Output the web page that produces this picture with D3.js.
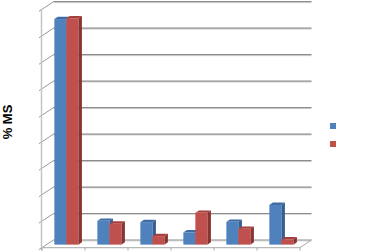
<!DOCTYPE html>
<html lang="en">

<head>
    <meta charset="UTF-8">
    <title>% MS</title>
    <script src="https://d3js.org/d3.v7.min.js"></script>
    <style>
        body { margin: 0; background: #fff; }
        text { font-family: "Liberation Sans", Arial, sans-serif; }
    </style>
</head>

<body>
    <svg width="369" height="251"></svg>
    <script>
        // data (labels are not visible in the original)
        let categories = ["c1", "c2", "c3", "c4", "c5", "c6"]
        let series = ["s1", "s2"]
        let blueValues = [85.2, 9.0, 8.5, 4.6, 8.6, 15.0]
        let redValues = [85.5, 7.9, 3.2, 12.0, 6.0, 2.0]
        let valueTicks = [0, 10, 20, 30, 40, 50, 60, 70, 80, 90]

        let values = [blueValues, redValues]
        let colors = [
            { front: "#4f81bd", top: "#3f6ca6", side: "#365f91" },
            { front: "#c0504d", top: "#a7403d", side: "#8a3432" }
        ]

        let svg = d3.select("svg")

        // depth offset of the 3d box (front plane -> back wall)
        let depthX = 11.5, depthY = -7.6
        function P(x, y, d) { return [x + d * depthX, y + d * depthY] }

        let x = d3.scaleBand().domain(categories).range([42, 300])
        let y = d3.scaleLinear().domain([0, 90]).range([247.6, 9.3])
        let sub = d3.scaleBand().domain(series).range([-12, 12])

        let grid = svg.append("g")
        // back wall gridlines
        valueTicks.forEach(function (t) {
            let a = P(42, y(t), 1), b = P(300, y(t), 1)
            grid.append("line")
                .attr("x1", a[0]).attr("y1", a[1] + 1).attr("x2", b[0]).attr("y2", b[1] + 1)
                .attr("stroke", "#d9d9d9").attr("stroke-width", 1)
            grid.append("line")
                .attr("x1", a[0]).attr("y1", a[1]).attr("x2", b[0]).attr("y2", b[1])
                .attr("stroke", "#8c8c8c").attr("stroke-width", 1.2)
            // side wall line plus little tick
            let f = P(42, y(t), 0)
            grid.append("line")
                .attr("x1", f[0] - 3).attr("y1", f[1] + 2).attr("x2", a[0]).attr("y2", a[1])
                .attr("stroke", "#9a9a9a").attr("stroke-width", 1)
        })
        // front vertical axis
        grid.append("line")
            .attr("x1", 41.5).attr("y1", y(90)).attr("x2", 41.5).attr("y2", y(0) + 3)
            .attr("stroke", "#c4c4c4").attr("stroke-width", 1.5)
        // floor front edge and right edge
        grid.append("line")
            .attr("x1", 41.5).attr("y1", y(0)).attr("x2", 300).attr("y2", y(0))
            .attr("stroke", "#b8b8b8").attr("stroke-width", 1.2)
        let fr = P(300, y(0), 0), br = P(300, y(0), 1)
        grid.append("line")
            .attr("x1", fr[0]).attr("y1", fr[1]).attr("x2", br[0]).attr("y2", br[1])
            .attr("stroke", "#a8a8a8").attr("stroke-width", 1)
        // category ticks on the floor edge
        categories.concat(["end"]).forEach(function (c, i) {
            let xx = i < categories.length ? x(c) : 300
            grid.append("line")
                .attr("x1", xx).attr("y1", y(0)).attr("x2", xx).attr("y2", y(0) + 3)
                .attr("stroke", "#a8a8a8").attr("stroke-width", 1)
        })

        // bars
        let f0 = 0.39, f1 = 0.7
        let bars = svg.append("g")
        let pts = function (arr) { return arr.map(function (p) { return p.join(",") }).join(" ") }
        categories.forEach(function (c, i) {
            series.forEach(function (s, j) {
                let v = values[j][i]
                // front face left edge, before the depth shift of P()
                let xl = x(c) + x.bandwidth() / 2 + 2.85 - f0 * depthX + sub(s)
                let xr = xl + sub.bandwidth()
                let col = colors[j]
                let a = P(xl, y(v), f0), b = P(xr, y(v), f0)
                let bb = P(xr, y(0), f0)
                // side
                bars.append("polygon")
                    .attr("points", pts([P(xr, y(v), f0), P(xr, y(v), f1), P(xr, y(0), f1), P(xr, y(0), f0)]))
                    .attr("fill", col.side)
                // top
                bars.append("polygon")
                    .attr("points", pts([P(xl, y(v), f0), P(xr, y(v), f0), P(xr, y(v), f1), P(xl, y(v), f1)]))
                    .attr("fill", col.top)
                // front
                bars.append("rect")
                    .attr("x", a[0]).attr("y", a[1])
                    .attr("width", b[0] - a[0]).attr("height", bb[1] - a[1])
                    .attr("fill", col.front)
            })
        })

        // legend swatches
        svg.append("g").selectAll("rect")
            .data(series)
            .enter()
            .append("rect")
            .attr("x", 330)
            .attr("y", function (d, i) { return 123 + i * 18 })
            .attr("width", 6).attr("height", 6)
            .attr("fill", function (d, i) { return colors[i].front })

        // axis title
        svg.append("text")
            .attr("transform", "translate(12,122) rotate(-90)")
            .attr("text-anchor", "middle")
            .attr("font-size", 13)
            .attr("font-weight", "bold")
            .text("% MS")
    </script>
</body>

</html>
